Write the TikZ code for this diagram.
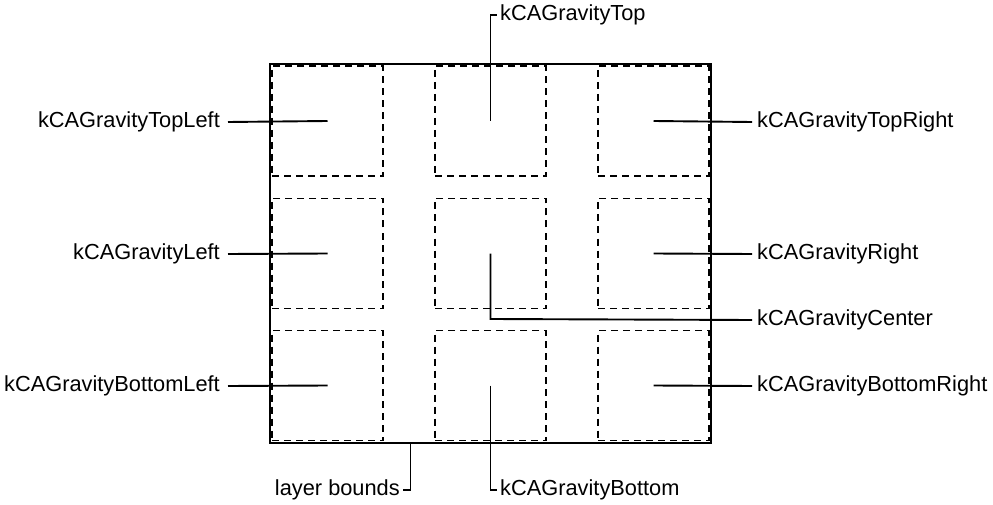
\documentclass[tikz,border=0pt]{standalone}
\usepackage{fontspec}
\setmainfont{Liberation Sans}
\begin{document}
\begin{tikzpicture}[x=1pt,y=-1pt,
  cell/.style={draw,dashed,dash pattern=on 7pt off 5pt,line width=1.3pt,
    minimum width=111pt,minimum height=110pt,inner sep=0pt,outer sep=0pt},
  bounds/.style={draw,line width=2.4pt},
  leader/.style={draw,line width=1.9pt},
  lbl/.style={font=\fontsize{21.8}{24}\selectfont,inner sep=0pt}]
\useasboundingbox (0,0) rectangle (993,505);

% layer outline
\draw[bounds] (270,64) rectangle (711,443);

% the nine gravity cells
\node[cell] (tl) at (327.5,121) {};
\node[cell] (t)  at (490.5,121) {};
\node[cell] (tr) at (653.5,121) {};
\node[cell] (l)  at (327.5,253.5) {};
\node[cell] (c)  at (490.5,253.5) {};
\node[cell] (r)  at (653.5,253.5) {};
\node[cell] (bl) at (327.5,385.5) {};
\node[cell] (b)  at (490.5,385.5) {};
\node[cell] (br) at (653.5,385.5) {};

% left labels
\node[lbl,anchor=east] (Ltl) at (220,122) {kCAGravityTopLeft};
\node[lbl,anchor=east] (Ll)  at (220,254) {kCAGravityLeft};
\node[lbl,anchor=east] (Lbl) at (220,386) {kCAGravityBottomLeft};
\draw[leader] (Ltl.east) ++(8,0) -- (tl.center);
\draw[leader] (Ll.east) ++(8,0) -- (l.center);
\draw[leader] (Lbl.east) ++(8,0) -- (bl.center);

% right labels
\node[lbl,anchor=west] (Ltr) at (757,122) {kCAGravityTopRight};
\node[lbl,anchor=west] (Lr)  at (757,254) {kCAGravityRight};
\node[lbl,anchor=west] (Lc)  at (757,320) {kCAGravityCenter};
\node[lbl,anchor=west] (Lbr) at (757,386) {kCAGravityBottomRight};
\draw[leader] (tr.center) -- ([xshift=-5pt]Ltr.west);
\draw[leader] (r.center) -- ([xshift=-5pt]Lr.west);
\draw[leader] (br.center) -- ([xshift=-5pt]Lbr.west);
\draw[leader] (c.center) -- (490.5,319) -- ([xshift=-5pt]Lc.west);

% top and bottom labels
\node[lbl,anchor=west] (Lt) at (500,15) {kCAGravityTop};
\node[lbl,anchor=west] (Lb) at (500,490) {kCAGravityBottom};
\draw[leader] (t.center) -- (490.5,15) -- ([xshift=-3pt]Lt.west);
\draw[leader] (b.center) -- (490.5,490) -- ([xshift=-3pt]Lb.west);

% layer bounds label
\node[lbl,anchor=east] (Llb) at (400,490) {layer bounds};
\coordinate (lbtop) at (410.5,443);
\draw[leader] (lbtop) -- (410.5,490) -- ([xshift=3pt]Llb.east);
\end{tikzpicture}
\end{document}
